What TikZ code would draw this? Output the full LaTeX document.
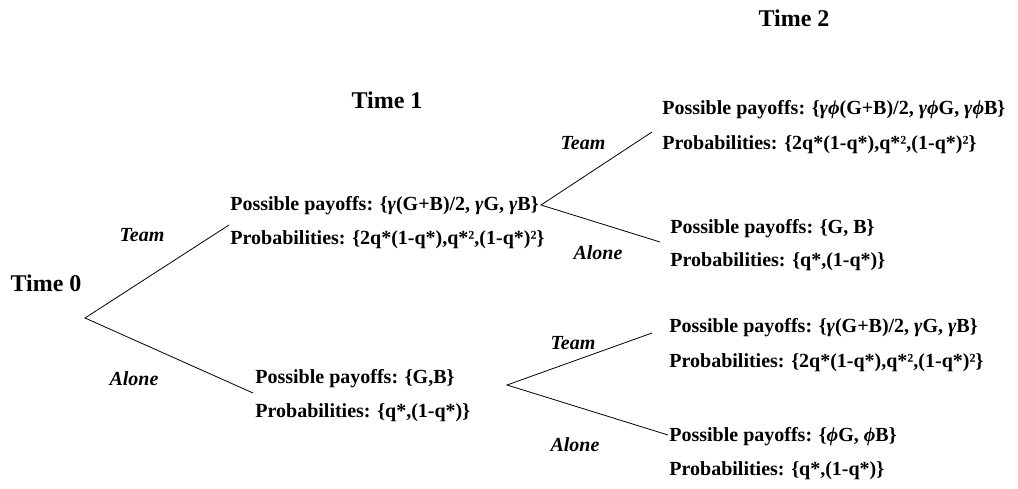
\documentclass[tikz,border=0pt]{standalone}
\usepackage{fontspec}
\setmainfont{Liberation Serif}
\newcommand{\gm}{\textit{γ}}
\newcommand{\ph}{\textit{ϕ}}
\begin{document}
\begin{tikzpicture}[x=1pt,y=-1pt,line width=0.8pt,
  pay/.style={anchor=base west,inner sep=0pt,font=\bfseries\fontsize{20}{24}\selectfont},
  act/.style={inner sep=0pt,font=\bfseries\itshape\fontsize{20}{24}\selectfont},
  tm/.style={inner sep=0pt,font=\bfseries\fontsize{24}{28}\selectfont}]
\useasboundingbox (0,0) rectangle (1018,489);
% time labels
\node[tm] (t0) at (46,283) {Time 0};
\node[tm] (t1) at (387,100) {Time 1};
\node[tm] (t2) at (794,18) {Time 2};
% branch points and branch ends
\coordinate (r0) at (85,318);
\coordinate (r1) at (541,205);
\coordinate (r2) at (507,385);
\coordinate (e1) at (229,225);
\coordinate (e2) at (253,393);
\coordinate (e11) at (652,132);
\coordinate (e12) at (660,242);
\coordinate (e21) at (652,333);
\coordinate (e22) at (668,435);
\draw (e1) -- (r0) -- (e2);
\draw (e11) -- (r1) -- (e12);
\draw (e21) -- (r2) -- (e22);
% actions
\node[act] (a1) at (142,235) {Team};
\node[act] (a2) at (134,379) {Alone};
\node[act] (a11) at (583,143) {Team};
\node[act] (a12) at (598,253) {Alone};
\node[act] (a21) at (573,343) {Team};
\node[act] (a22) at (575,445) {Alone};
% time 1 outcomes
\node[pay] (p1) at (230,211) {Possible payoffs: \{\gm(G+B)/2, \gm G, \gm B\}};
\node[pay] (q1) at (230,245) {Probabilities: \{2q*(1-q*),q*²,(1-q*)²\}};
\node[pay] (p2) at (255,383) {Possible payoffs: \{G,B\}};
\node[pay] (q2) at (255,417) {Probabilities: \{q*,(1-q*)\}};
% time 2 outcomes
\node[pay] (p11) at (662,115) {Possible payoffs: \{\gm\ph(G+B)/2, \gm\ph G, \gm\ph B\}};
\node[pay] (q11) at (662,150) {Probabilities: \{2q*(1-q*),q*²,(1-q*)²\}};
\node[pay] (p12) at (670,234) {Possible payoffs: \{G, B\}};
\node[pay] (q12) at (670,267) {Probabilities: \{q*,(1-q*)\}};
\node[pay] (p21) at (669,332) {Possible payoffs: \{\gm(G+B)/2, \gm G, \gm B\}};
\node[pay] (q21) at (669,367) {Probabilities: \{2q*(1-q*),q*²,(1-q*)²\}};
\node[pay] (p22) at (669,441) {Possible payoffs: \{\ph G, \ph B\}};
\node[pay] (q22) at (669,475) {Probabilities: \{q*,(1-q*)\}};
\end{tikzpicture}
\end{document}
